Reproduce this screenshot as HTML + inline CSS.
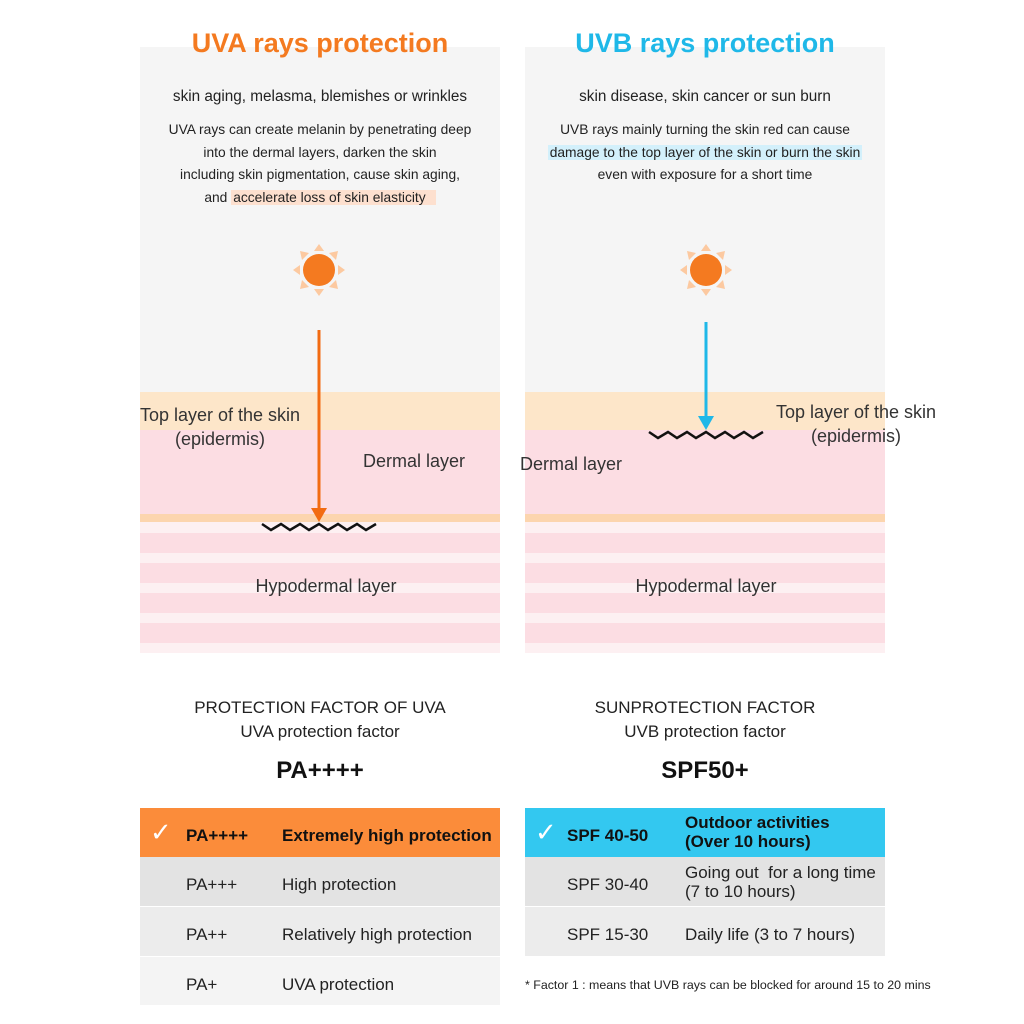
<!DOCTYPE html>
<html><head><meta charset="utf-8"><style>
body{margin:0;width:1024px;height:1024px;background:#fff;position:relative;overflow:hidden;font-family:"Liberation Sans","NanumGothic",sans-serif;color:#222}
div,span{position:absolute;box-sizing:border-box}
.c{text-align:center}
.panel{background:#f5f5f5;top:47px;width:360px;height:345px}
.lbl{font-size:18px;color:#333}
.row{width:360px;height:48px;font-size:17px}
.row span{top:4px;line-height:48px}
</style></head><body>
<div class="panel" style="left:140px"></div>
<div class="panel" style="left:525px"></div>
<div class="c" style="left:140px;width:360px;top:28px;font-size:27px;font-weight:bold;color:#f47a20">UVA rays protection</div>
<div class="c" style="left:525px;width:360px;top:28px;font-size:27px;font-weight:bold;color:#1fb8e8">UVB rays protection</div>

<div class="c" style="left:140px;width:360px;top:88px;font-size:15.3px">skin aging, melasma, blemishes or wrinkles</div>
<div class="c" style="left:130px;width:380px;top:119px;font-size:13.8px;line-height:22.5px">UVA rays can create melanin by penetrating deep<br>into the dermal layers, darken the skin<br>including skin pigmentation, cause skin aging,<br>and <span style="position:static;background:#fde0cf;padding:0 10px 0 2px">accelerate loss of skin elasticity</span></div>
<div class="c" style="left:525px;width:360px;top:88px;font-size:15.3px">skin disease, skin cancer or sun burn</div>
<div class="c" style="left:515px;width:380px;top:119px;font-size:13.8px;line-height:22.5px">UVB rays mainly turning the skin red can cause<br><span style="position:static;background:#d3f0fb;padding:0 2px">damage to the top layer of the skin or burn the skin</span><br>even with exposure for a short time</div>

<svg style="position:absolute;left:0;top:0" width="1024" height="1024">
<g>
<rect x="140" y="392" width="360" height="38" fill="#fde6c9"/><rect x="140" y="430" width="360" height="84" fill="#fcdde3"/><rect x="140" y="514" width="360" height="8" fill="#fcd5ae"/><rect x="140" y="522" width="360" height="131" fill="#fdf0f2"/>
<rect x="140" y="533" width="360" height="20" fill="#fcdde3"/><rect x="140" y="563" width="360" height="20" fill="#fcdde3"/><rect x="140" y="593" width="360" height="20" fill="#fcdde3"/><rect x="140" y="623" width="360" height="20" fill="#fcdde3"/>
</g>
<g>
<rect x="525" y="392" width="360" height="38" fill="#fde6c9"/><rect x="525" y="430" width="360" height="84" fill="#fcdde3"/><rect x="525" y="514" width="360" height="8" fill="#fcd5ae"/><rect x="525" y="522" width="360" height="131" fill="#fdf0f2"/>
<rect x="525" y="533" width="360" height="20" fill="#fcdde3"/><rect x="525" y="563" width="360" height="20" fill="#fcdde3"/><rect x="525" y="593" width="360" height="20" fill="#fcdde3"/><rect x="525" y="623" width="360" height="20" fill="#fcdde3"/>
</g>
<g><circle cx="319" cy="270" r="16" fill="#f47a20"/>
<g fill="#fcc9a0"><polygon points="319,244 314,251 324,251"/><polygon points="319,296 314,289 324,289"/><polygon points="293,270 300,265 300,275"/><polygon points="345,270 338,265 338,275"/><polygon points="300,251 309,253 302,260"/><polygon points="338,251 329,253 336,260"/><polygon points="300,289 309,287 302,280"/><polygon points="338,289 329,287 336,280"/></g></g>
<g><circle cx="706" cy="270" r="16" fill="#f47a20"/>
<g fill="#fcc9a0"><polygon points="706,244 701,251 711,251"/><polygon points="706,296 701,289 711,289"/><polygon points="680,270 687,265 687,275"/><polygon points="732,270 725,265 725,275"/><polygon points="687,251 696,253 689,260"/><polygon points="725,251 716,253 723,260"/><polygon points="687,289 696,287 689,280"/><polygon points="725,289 716,287 723,280"/></g></g>
<g><line x1="319" y1="330" x2="319" y2="510" stroke="#f26b12" stroke-width="3"/><polygon points="311,508 327,508 319,522" fill="#f26b12"/></g>
<g><line x1="706" y1="322" x2="706" y2="418" stroke="#1fb8e8" stroke-width="3"/><polygon points="698,416 714,416 706,430" fill="#1fb8e8"/></g>
<polyline points="262,524 271,530 281,524 290,530 300,524 309,530 319,524 328,530 338,524 347,530 357,524 366,530 376,524" fill="none" stroke="#111" stroke-width="2.5"/>
<polyline points="649,432 658,438 668,432 677,438 687,432 696,438 706,432 715,438 725,432 734,438 744,432 753,438 763,432" fill="none" stroke="#111" stroke-width="2.5"/>
</svg>

<div class="lbl c" style="left:110px;width:220px;top:403px;line-height:24px">Top layer of the skin<br>(epidermis)</div>
<div class="lbl" style="left:363px;top:451px">Dermal layer</div>
<div class="lbl c" style="left:140px;width:372px;top:576px">Hypodermal layer</div>
<div class="lbl c" style="left:746px;width:220px;top:400px;line-height:24px">Top layer of the skin<br>(epidermis)</div>
<div class="lbl" style="left:520px;top:454px">Dermal layer</div>
<div class="lbl c" style="left:525px;width:362px;top:576px">Hypodermal layer</div>

<div class="c" style="left:140px;width:360px;top:696px;font-size:17px;line-height:24px">PROTECTION FACTOR OF UVA<br>UVA protection factor</div>
<div class="c" style="left:140px;width:360px;top:757px;font-size:24px;font-weight:bold;color:#111">PA++++</div>
<div class="c" style="left:525px;width:360px;top:696px;font-size:17px;line-height:24px">SUNPROTECTION FACTOR<br>UVB protection factor</div>
<div class="c" style="left:525px;width:360px;top:757px;font-size:24px;font-weight:bold;color:#111">SPF50+</div>

<div class="row" style="left:140px;top:808px;height:49px;background:#fb8c3a;font-weight:bold;color:#111"><span style="left:10px;top:0;color:#fff;font-size:26px;font-weight:normal">✓</span><span style="left:46px">PA++++</span><span style="left:142px">Extremely high protection</span></div>
<div class="row" style="left:140px;top:857px;height:49px;background:#e3e3e3"><span style="left:46px">PA+++</span><span style="left:142px">High protection</span></div>
<div class="row" style="left:140px;top:907px;height:49px;background:#ececec"><span style="left:46px">PA++</span><span style="left:142px">Relatively high protection</span></div>
<div class="row" style="left:140px;top:957px;height:48px;background:#f4f4f4"><span style="left:46px">PA+</span><span style="left:142px">UVA protection</span></div>

<div class="row" style="left:525px;top:808px;height:49px;background:#33c8f0;font-weight:bold;color:#111"><span style="left:10px;top:0;color:#fff;font-size:26px;font-weight:normal">✓</span><span style="left:42px">SPF 40-50</span><span style="left:160px;top:5px;line-height:19px">Outdoor activities<br>(Over 10 hours)</span></div>
<div class="row" style="left:525px;top:857px;height:49px;background:#e3e3e3"><span style="left:42px">SPF 30-40</span><span style="left:160px;top:6px;line-height:19px">Going out&nbsp; for a long time<br>(7 to 10 hours)</span></div>
<div class="row" style="left:525px;top:907px;height:49px;background:#ececec"><span style="left:42px">SPF 15-30</span><span style="left:160px">Daily life (3 to 7 hours)</span></div>
<div style="left:525px;top:978px;font-size:12.4px;color:#222;white-space:nowrap">* Factor 1 : means that UVB rays can be blocked for around 15 to 20 mins</div>
</body></html>
